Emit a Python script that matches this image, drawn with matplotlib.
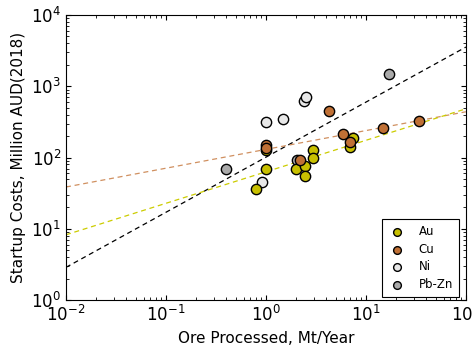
import matplotlib
matplotlib.use("Agg")
import matplotlib.pyplot as plt
import numpy as np

# Data (Ore processed Mt/year, startup cost Million AUD 2018)
au_x = [0.80, 1.0, 1.0, 1.98, 2.47, 2.47, 2.97, 2.97, 6.9, 7.5]
au_y = [36.5, 68, 127, 68, 77, 54.5, 127, 99, 142, 186]
cu_x = [4.24, 5.93, 14.8, 33.6, 6.9, 1.0, 1.0, 2.19]
cu_y = [450, 211, 257, 325, 167, 150, 135, 91]
ni_x = [1.0, 1.49, 2.4, 2.51, 0.91]
ni_y = [315, 351, 627, 700, 46]
pbzn_x = [16.9, 0.40, 2.03]
pbzn_y = [1486, 68, 92]

# Power-law fits: y = a * x**b
fit_all = (101.0, 0.773)
fit_cu = (130.0, 0.264)
fit_au = (63.0, 0.442)

fig = plt.figure(figsize=(4.73, 3.45), dpi=100)
ax = fig.add_axes([0.1395, 0.1304, 0.8455, 0.8261])

xx = np.logspace(-2, 2, 200)
ax.plot(xx, fit_all[0] * xx ** fit_all[1], '--', color='black', lw=0.9, dashes=(4, 3))
ax.plot(xx, fit_cu[0] * xx ** fit_cu[1], '--', color='#d09060', lw=0.9, dashes=(4, 3))
ax.plot(xx, fit_au[0] * xx ** fit_au[1], '--', color='#cccc00', lw=0.9, dashes=(4, 3))

kw = dict(s=55, edgecolors='black', linewidths=1.0, zorder=3)
ax.scatter(pbzn_x, pbzn_y, color='#aaaaaa', label='Pb-Zn', **kw)
ax.scatter(ni_x, ni_y, color='#e8e8e8', label='Ni', **kw)
ax.scatter(au_x, au_y, color='#c8c000', label='Au', **kw)
ax.scatter(cu_x, cu_y, color='#c07035', label='Cu', **kw)

ax.set_xscale('log')
ax.set_yscale('log')
ax.set_xlim(1e-2, 1e2)
ax.set_ylim(1e0, 1e4)
ax.tick_params(which='both', direction='in', top=True, right=True, labelsize=12)
ax.set_xlabel('Ore Processed, Mt/Year', fontsize=11)
ax.set_ylabel('Startup Costs, Million AUD(2018)', fontsize=11)

h, l = ax.get_legend_handles_labels()
order = [l.index(n) for n in ['Au', 'Cu', 'Ni', 'Pb-Zn']]
leg = ax.legend([h[i] for i in order], [l[i] for i in order], loc='lower right',
                fontsize=8.5, fancybox=False, edgecolor='black', framealpha=1,
                scatterpoints=1, markerscale=0.75, handletextpad=1.0,
                handlelength=1.6, borderpad=0.5, labelspacing=0.4,
                borderaxespad=0, bbox_to_anchor=(0.9825, 0.0105))
leg.get_frame().set_linewidth(0.8)

fig.savefig('out.png', dpi=100)
